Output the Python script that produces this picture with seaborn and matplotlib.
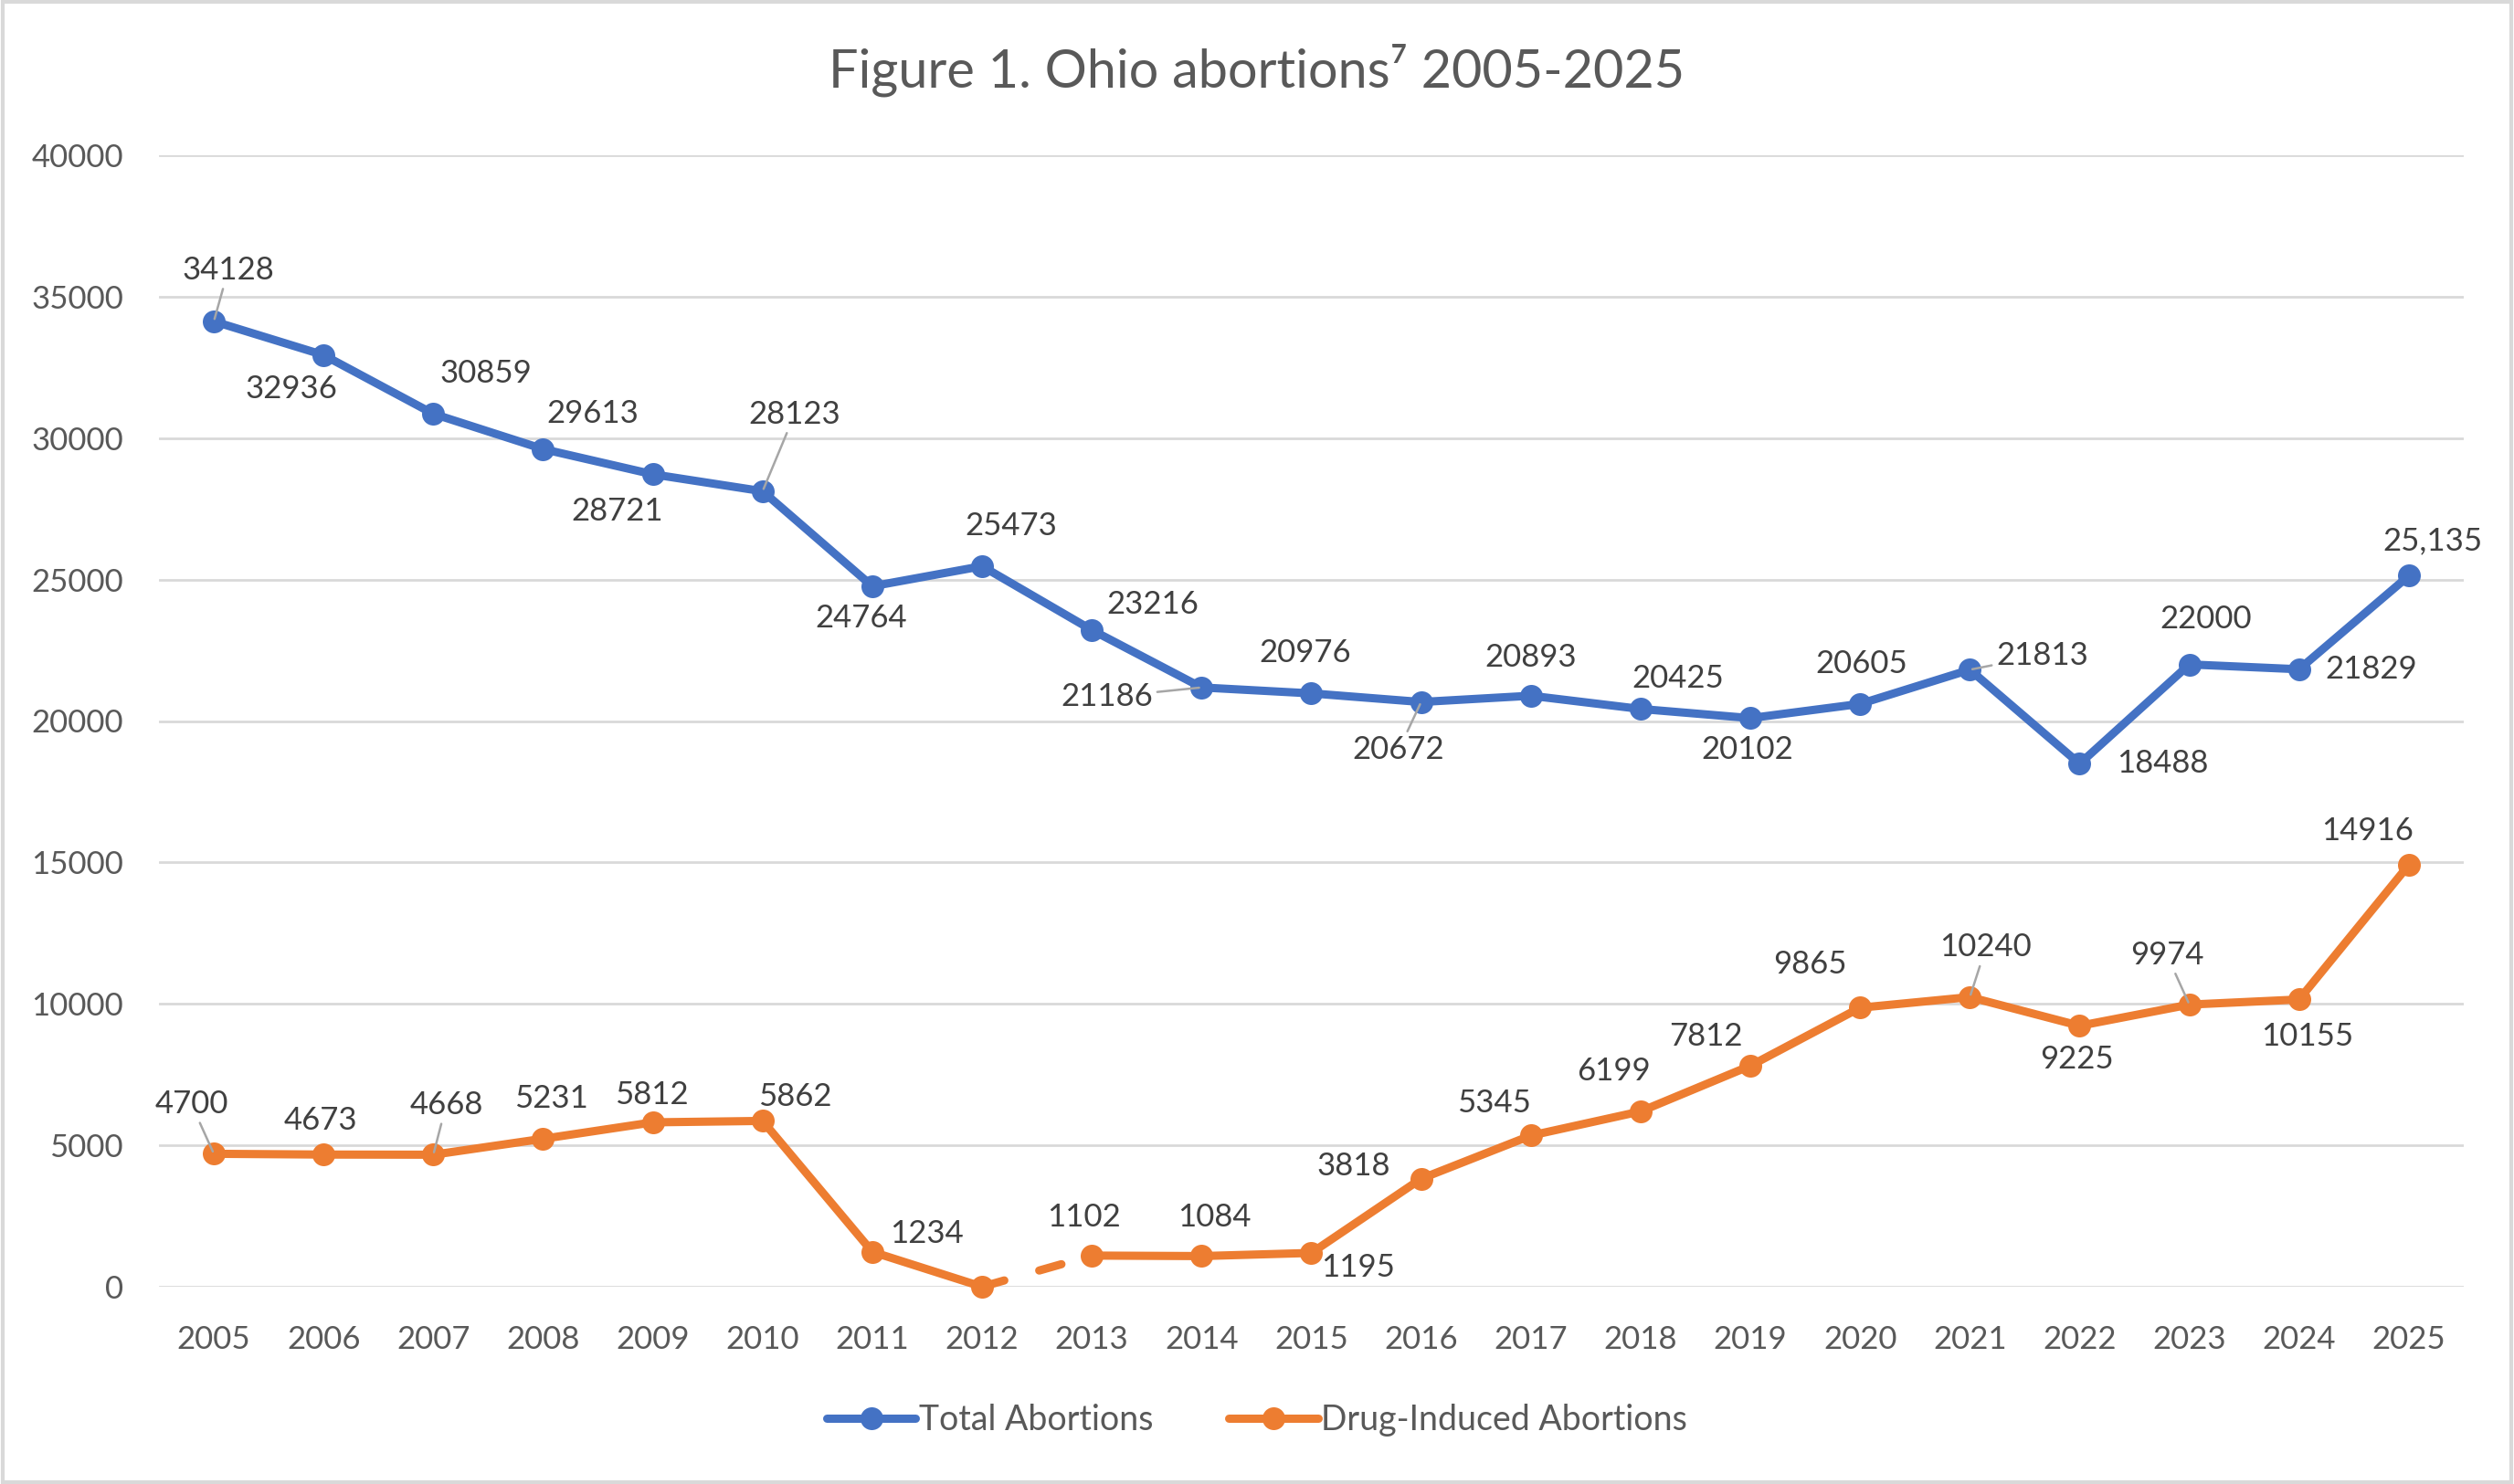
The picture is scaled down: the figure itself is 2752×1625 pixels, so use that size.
import matplotlib
matplotlib.use("Agg")
import matplotlib.pyplot as plt
from matplotlib.lines import Line2D
from matplotlib.patches import Rectangle
import seaborn as sns
import pandas as pd

years = list(range(2005, 2026))
total = [34128, 32936, 30859, 29613, 28721, 28123, 24764, 25473, 23216, 21186, 20976,
         20672, 20893, 20425, 20102, 20605, 21813, 18488, 22000, 21829, 25135]
drug = [4700, 4673, 4668, 5231, 5812, 5862, 1234, 0, 1102, 1084, 1195,
        3818, 5345, 6199, 7812, 9865, 10240, 9225, 9974, 10155, 14916]
total_labels = [str(v) for v in total[:-1]] + ["25,135"]
drug_labels = [str(v) for v in drug]
drug_labels[7] = ""

# label offsets in reference (shrunk) pixels: dx, dy (down positive), leader line
total_off = [(9, -32, True), (-20, 21, False), (33, -25, False), (31, -22, False), (-22, 23, False),
             (20, -48, True), (-7, 20, False), (18, -25, False), (38, -16, False), (-59, 6, True),
             (-4, -25, False), (-14, 30, True), (0, -24, False), (23, -19, False), (-2, 20, False),
             (1, -25, False), (45, -9, True), (52, 0, False), (10, -28, False), (45, 0, False),
             (15, -22, False)]
drug_off = [(-14, -31, True), (-2, -21, False), (8, -31, True), (5, -25, False), (-1, -17, False),
            (20, -15, False), (34, -11, False), (0, 0, False), (-5, -24, False), (8, -24, False),
            (29, 9, False), (-42, -8, False), (-23, -20, False), (-17, -25, False), (-28, -18, False),
            (-31, -27, False), (10, -31, True), (-2, 21, False), (-14, -31, True), (5, 23, False),
            (-26, -21, False)]

BLUE = "#4472C4"
ORANGE = "#ED7D31"
SCALE = 2752 / 1568
LW = 6.5
MS = 18

sns.set_theme(style="white")
plt.rcParams["font.family"] = ["Lato", "DejaVu Sans"]

df_total = pd.DataFrame({"year": years, "value": total})
df_drug = pd.DataFrame({"year": years, "value": drug})

fig = plt.figure(figsize=(27.52, 16.25), dpi=100)
ax = fig.add_axes([174 / 2752, 1 - 1409 / 1625, (2697 - 174) / 2752, (1409 - 170) / 1625])

line_kw = dict(linewidth=LW, marker="o", markersize=MS, markeredgewidth=0, clip_on=False)
sns.lineplot(data=df_total, x="year", y="value", color=BLUE, ax=ax, **line_kw)
sns.lineplot(data=df_drug.iloc[:8], x="year", y="value", color=ORANGE, ax=ax, **line_kw)
sns.lineplot(data=df_drug.iloc[8:], x="year", y="value", color=ORANGE, ax=ax, **line_kw)
gap = df_drug.iloc[7:9]
ax.plot(gap["year"], gap["value"], color=ORANGE, linewidth=LW, linestyle=(0, (2.8, 4.4)),
        dash_capstyle="round", clip_on=False, zorder=1.5)


def add_labels(xs, ys, labels, offsets):
    for x, y, lab, (dx, dy, leader) in zip(xs, ys, labels, offsets):
        if not lab:
            continue
        ax.annotate(lab, (x, y), xytext=(dx * SCALE, -dy * SCALE), textcoords="offset pixels",
                    ha="center", va="center", fontsize=25, color="#404040",
                    arrowprops=dict(arrowstyle="-", color="#A6A6A6", lw=1.8,
                                    shrinkA=1, shrinkB=2) if leader else None)


add_labels(years, total, total_labels, total_off)
add_labels(years, drug, drug_labels, drug_off)

ax.set_xlim(2004.5, 2025.5)
ax.set_ylim(0, 40000)
ax.set_xticks(years)
ax.set_yticks(range(0, 40001, 5000))
ax.set_xlabel("")
ax.set_ylabel("")
ax.grid(axis="y", color="#D9D9D9", linewidth=2)
ax.set_axisbelow(True)
for s in ax.spines.values():
    s.set_visible(False)
ax.tick_params(axis="both", length=0, labelsize=25, labelcolor="#595959")
ax.tick_params(axis="y", pad=28)
ax.tick_params(axis="x", pad=30)

fig.text(0.5, 1 - 77 / 1625, "Figure 1. Ohio abortions\u2077 2005-2025", ha="center", va="center",
         fontsize=41.5, color="#595959")

handles = [Line2D([], [], color=BLUE, linewidth=LW, marker="o", markersize=MS, markeredgewidth=0),
           Line2D([], [], color=ORANGE, linewidth=LW, marker="o", markersize=MS, markeredgewidth=0)]
fig.legend(handles, ["Total Abortions", "Drug-Induced Abortions"], loc="center",
           bbox_to_anchor=(0.5, 1 - 1555 / 1625), ncol=2, frameon=False, fontsize=27,
           labelcolor="#595959", handlelength=2.6, handletextpad=0.1, columnspacing=2.2)

fig.patches.append(Rectangle((0.001, 0.001), 0.998, 0.998, transform=fig.transFigure,
                             fill=False, edgecolor="#D9D9D9", linewidth=3))

fig.savefig("out.png", dpi=100)
